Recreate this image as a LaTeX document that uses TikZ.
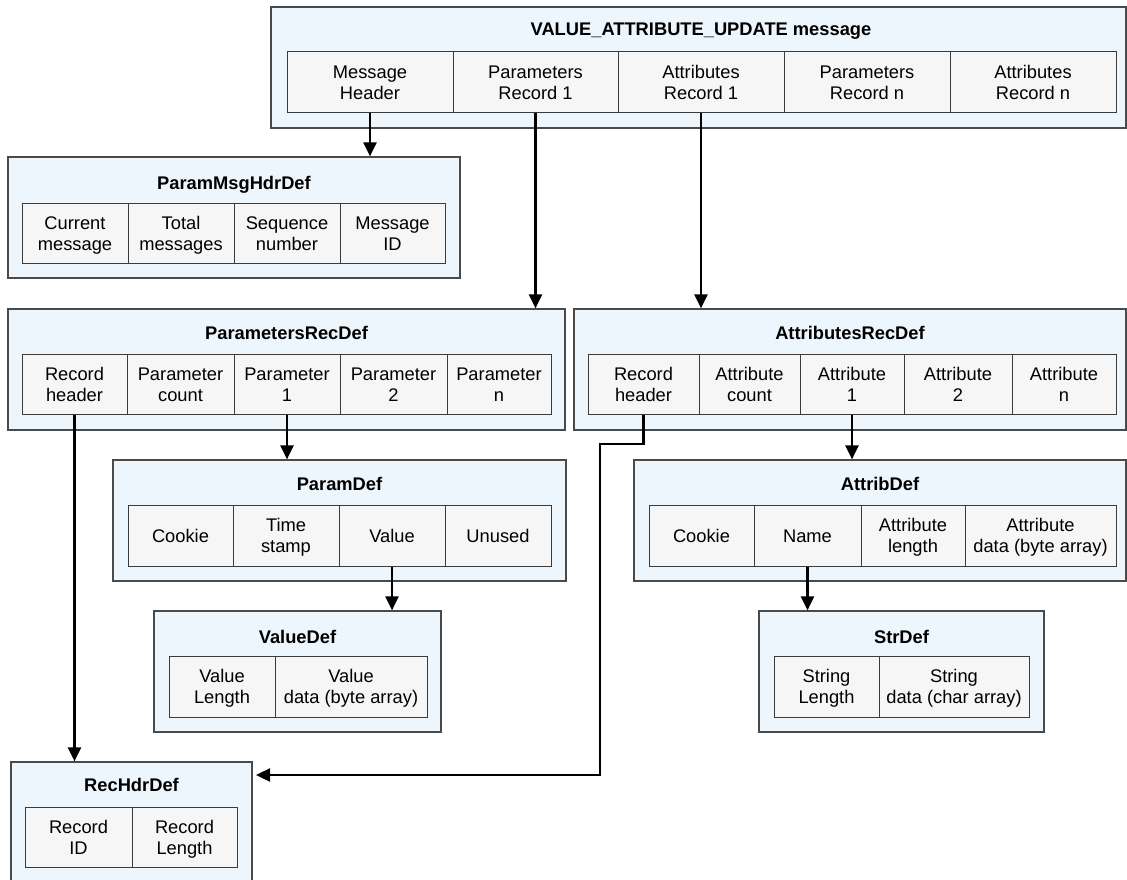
\documentclass[tikz,border=0pt]{standalone}
\usepackage{fontspec}
\setmainfont{Liberation Sans}
\usetikzlibrary{arrows.meta}
\definecolor{outerfill}{HTML}{EEF6FD}
\definecolor{cellfill}{HTML}{F6F6F6}
\definecolor{edge}{HTML}{4A4A4A}
\tikzset{
  outerbox/.style={draw=edge, fill=outerfill, line width=1.2pt, inner sep=0pt},
  cellbox/.style={draw=edge!80!black, fill=cellfill, line width=1pt, inner sep=0pt, align=center, font=\fontsize{18.3}{21}\selectfont},
  titletext/.style={font=\fontsize{18.3}{21}\selectfont\bfseries, inner sep=0pt, yshift=-1.5pt},
  link/.style={line width=2.4pt, -{Triangle[length=14pt,width=13pt]}}
}
\newcommand\ocell[6]{\node[cellbox, minimum width=#2pt, minimum height=#3pt] (#1) at (#4,#5) {\rule{0pt}{19.7pt}#6\rule[-6.3pt]{0pt}{1pt}};}
\begin{document}
\begin{tikzpicture}[x=1pt,y=-1pt]
\useasboundingbox (0,0) rectangle (1127,880);
% Box 1
\node[outerbox, minimum width=855pt, minimum height=121pt] (vau) at (698.5,67.5) {};
\node[titletext] at (701,30) {VALUE\_ATTRIBUTE\_UPDATE message};
\ocell{mh}{166}{61}{370}{82.5}{Message\\Header}
\ocell{pr1}{165}{61}{535.5}{82.5}{Parameters\\Record 1}
\ocell{ar1}{166}{61}{701}{82.5}{Attributes\\Record 1}
\ocell{prn}{166}{61}{867}{82.5}{Parameters\\Record n}
\ocell{arn}{166}{61}{1033}{82.5}{Attributes\\Record n}
% Box 2
\node[outerbox, minimum width=452pt, minimum height=121pt] (pmh) at (234,217.5) {};
\node[titletext] at (234,183) {ParamMsgHdrDef};
\ocell{cm}{106}{60}{75}{233}{Current\\message}
\ocell{tm}{106}{60}{181}{233}{Total\\messages}
\ocell{sn}{106}{60}{287}{233}{Sequence\\number}
\ocell{mid}{105}{60}{392.5}{233}{Message\\ID}
% Box 3
\node[outerbox, minimum width=557pt, minimum height=121pt] (prd) at (286.5,369.5) {};
\node[titletext] at (286.5,331) {ParametersRecDef};
\ocell{prh}{105}{60}{74.5}{384}{Record\\header}
\ocell{pc}{107}{60}{180.5}{384}{Parameter\\count}
\ocell{p1}{106}{60}{287}{384}{Parameter\\1}
\ocell{p2}{107}{60}{393.5}{384}{Parameter\\2}
\ocell{pn}{104}{60}{499}{384}{Parameter\\n}
% Box 4
\node[outerbox, minimum width=552pt, minimum height=121pt] (ard) at (850,369.5) {};
\node[titletext] at (850,331) {AttributesRecDef};
\ocell{arh}{111}{60}{643.5}{384}{Record\\header}
\ocell{ac}{101}{60}{749.5}{384}{Attribute\\count}
\ocell{a1}{104}{60}{852}{384}{Attribute\\1}
\ocell{a2}{108}{60}{958}{384}{Attribute\\2}
\ocell{an}{104}{60}{1064}{384}{Attribute\\n}
% Box 5
\node[outerbox, minimum width=453pt, minimum height=121pt] (pd) at (339.5,520.5) {};
\node[titletext] at (339.5,482) {ParamDef};
\ocell{ck}{105}{61}{180.5}{535.5}{Cookie}
\ocell{ts}{106}{61}{286}{535.5}{Time\\stamp}
\ocell{val}{106}{61}{392}{535.5}{Value}
\ocell{un}{106}{61}{498}{535.5}{Unused}
% Box 6
\node[outerbox, minimum width=492pt, minimum height=121pt] (ad) at (880,520.5) {};
\node[titletext] at (880,482) {AttribDef};
\ocell{ack}{105}{61}{701.5}{535.5}{Cookie}
\ocell{nm}{107}{61}{807.5}{535.5}{Name}
\ocell{al}{104}{61}{913}{535.5}{Attribute\\length}
\ocell{adt}{151}{61}{1040.5}{535.5}{Attribute\\data (byte array)}
% Box 7
\node[outerbox, minimum width=287pt, minimum height=121pt] (vd) at (297.5,671.5) {};
\node[titletext] at (297.5,635) {ValueDef};
\ocell{vl}{106}{61}{222}{686.5}{Value\\Length}
\ocell{vdt}{152}{61}{351}{686.5}{Value\\data (byte array)}
% Box 8
\node[outerbox, minimum width=285pt, minimum height=121pt] (sd) at (901.5,671.5) {};
\node[titletext] at (901.5,635) {StrDef};
\ocell{sl}{105}{61}{826.5}{686.5}{String\\Length}
\ocell{sdt}{150}{61}{954}{686.5}{String\\data (char array)}
% Box 9
\node[outerbox, minimum width=241pt, minimum height=120pt] (rhd) at (131.5,822) {};
\node[titletext] at (131.5,783) {RecHdrDef};
\ocell{rid}{107}{60}{78.5}{837}{Record\\ID}
\ocell{rlen}{105}{60}{184.5}{837}{Record\\Length}
% connectors
\draw[link] (mh.south) -- (mh.south |- pmh.north);
\draw[link] (pr1.south) -- (pr1.south |- prd.north);
\draw[link] (ar1.south) -- (ar1.south |- ard.north);
\draw[link] (prh.south) -- (prh.south |- rhd.north);
\draw[link] (p1.south) -- (p1.south |- pd.north);
\draw[link] (a1.south) -- (a1.south |- ad.north);
\draw[link] (val.south) -- (val.south |- vd.north);
\draw[link] (nm.south) -- (nm.south |- sd.north);
\coordinate (bend) at (600,444);
\coordinate (rhin) at (256,775);
\draw[link] (arh.south) |- (bend) -- (bend |- rhin) -- (rhin);
\end{tikzpicture}
\end{document}
